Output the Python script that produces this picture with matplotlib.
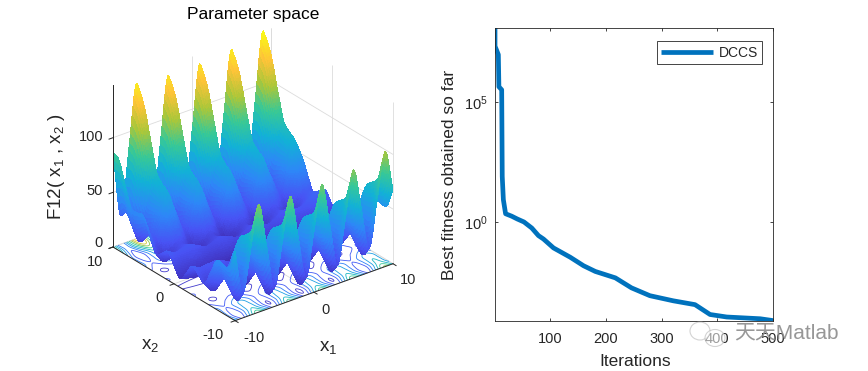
import numpy as np
import matplotlib
matplotlib.use("Agg")
import matplotlib.pyplot as plt
from matplotlib.colors import LinearSegmentedColormap
from matplotlib.patches import Ellipse
from mpl_toolkits.mplot3d import proj3d

# ---------- data ----------
x1_grid = list(range(-10, 11))
x2_grid = list(range(-10, 11))
# surface heights F12, one row per x2 value (x2 = -10 ... 10), columns x1 = -10 ... 10
z_rows = [
    [63.6,22.1,60.4,98.8,58.1,17.4,56.5,95.7,55.7,15.8,55.7,95.7,56.5,17.4,58.1,98.8,60.4,22.1,63.6,105.1,67.5],
    [45.7,12.6,42.5,72.6,40.2,7.9,38.6,69.5,37.8,6.3,37.8,69.5,38.6,7.9,40.2,72.6,42.5,12.6,45.7,78.9,49.6],
    [44.7,19.0,41.5,64.3,39.2,14.3,37.6,61.2,36.8,12.7,36.8,61.2,37.6,14.3,39.2,64.3,41.5,19.0,44.7,70.6,48.6],
    [44.9,25.5,41.7,58.1,39.4,20.8,37.8,55.0,37.0,19.2,37.0,55.0,37.8,20.8,39.4,58.1,41.7,25.5,44.9,64.4,48.8],
    [30.6,16.6,27.4,38.4,25.1,11.9,23.5,35.3,22.7,10.3,22.7,35.3,23.5,11.9,25.1,38.4,27.4,16.6,30.6,44.7,34.5],
    [17.4,7.9,14.2,20.8,11.9,3.2,10.3,17.7,9.5,1.6,9.5,17.7,10.3,3.2,11.9,20.8,14.2,7.9,17.4,27.1,21.3],
    [21.2,15.0,18.0,21.1,15.7,10.3,14.1,18.0,13.3,8.7,13.3,18.0,14.1,10.3,15.7,21.1,18.0,15.0,21.2,27.4,25.1],
    [26.1,22.4,22.9,23.5,20.6,17.7,19.0,20.4,18.2,16.1,18.2,20.4,19.0,17.7,20.6,23.5,22.9,22.4,26.1,29.8,30.0],
    [16.4,14.3,13.2,12.4,10.9,9.6,9.3,9.3,8.5,8.0,8.5,9.3,9.3,9.6,10.9,12.4,13.2,14.3,16.4,18.7,20.3],
    [8.0,6.3,4.8,3.5,2.5,1.6,0.9,0.4,0.1,0.0,0.1,0.4,0.9,1.6,2.5,3.5,4.8,6.3,8.0,9.8,11.9],
    [16.4,14.3,13.2,12.4,10.9,9.6,9.3,9.3,8.5,8.0,8.5,9.3,9.3,9.6,10.9,12.4,13.2,14.3,16.4,18.7,20.3],
    [26.1,22.4,22.9,23.5,20.6,17.7,19.0,20.4,18.2,16.1,18.2,20.4,19.0,17.7,20.6,23.5,22.9,22.4,26.1,29.8,30.0],
    [21.2,15.0,18.0,21.1,15.7,10.3,14.1,18.0,13.3,8.7,13.3,18.0,14.1,10.3,15.7,21.1,18.0,15.0,21.2,27.4,25.1],
    [17.4,7.9,14.2,20.8,11.9,3.2,10.3,17.7,9.5,1.6,9.5,17.7,10.3,3.2,11.9,20.8,14.2,7.9,17.4,27.1,21.3],
    [30.6,16.6,27.4,38.4,25.1,11.9,23.5,35.3,22.7,10.3,22.7,35.3,23.5,11.9,25.1,38.4,27.4,16.6,30.6,44.7,34.5],
    [44.9,25.5,41.7,58.1,39.4,20.8,37.8,55.0,37.0,19.2,37.0,55.0,37.8,20.8,39.4,58.1,41.7,25.5,44.9,64.4,48.8],
    [44.7,19.0,41.5,64.3,39.2,14.3,37.6,61.2,36.8,12.7,36.8,61.2,37.6,14.3,39.2,64.3,41.5,19.0,44.7,70.6,48.6],
    [45.7,12.6,42.5,72.6,40.2,7.9,38.6,69.5,37.8,6.3,37.8,69.5,38.6,7.9,40.2,72.6,42.5,12.6,45.7,78.9,49.6],
    [63.6,22.1,60.4,98.8,58.1,17.4,56.5,95.7,55.7,15.8,55.7,95.7,56.5,17.4,58.1,98.8,60.4,22.1,63.6,105.1,67.5],
    [82.6,31.8,79.4,127.2,77.1,27.1,75.5,124.1,74.7,25.5,74.7,124.1,75.5,27.1,77.1,127.2,79.4,31.8,82.6,133.5,86.5],
    [87.1,26.0,83.9,142.0,81.6,21.3,80.0,138.9,79.2,19.7,79.2,138.9,80.0,21.3,81.6,142.0,83.9,26.0,87.1,148.3,91.0],
]
contour_levels = [10, 25, 40, 55, 70, 85, 100, 115, 130, 145]
z_ticks = [0, 50, 100]
x_ticks_3d = [-10, 0, 10]

iterations = [1, 1, 7, 8, 13, 14, 16, 20, 31, 41, 53, 67, 79, 88, 106, 136, 160, 181, 217, 246, 279, 321, 360, 387, 417, 477, 500]
best_fitness = [1.2e8, 2.1e7, 9.3e6, 4.3e5, 3.2e5, 79, 8.5, 2.2, 1.74, 1.33, 1.0, 0.56, 0.27, 0.195, 0.083, 0.034, 0.015,
                0.0087, 0.0047, 0.0018, 8.5e-4, 5.2e-4, 3.6e-4, 1.4e-4, 1.1e-4, 9.3e-5, 7.8e-5]
iter_ticks = [100, 200, 300, 400, 500]
fitness_ticks = [1e0, 1e5]
series_name = "DCCS"
watermark = "天天Matlab"

# ---------- style ----------
W, H = 868, 371
DARK = "#262626"
plt.rcParams["font.family"] = ["Liberation Sans", "Noto Sans CJK SC", "DejaVu Sans"]
plt.rcParams["mathtext.fontset"] = "custom"
plt.rcParams["mathtext.rm"] = "Liberation Sans"
plt.rcParams["mathtext.default"] = "rm"
parula = LinearSegmentedColormap.from_list("parula", [
    (0.2422, 0.1504, 0.6603), (0.2810, 0.3228, 0.9579), (0.1786, 0.5289, 0.9682), (0.0689, 0.6948, 0.8394),
    (0.2161, 0.7843, 0.5923), (0.6720, 0.7793, 0.2227), (0.9970, 0.7659, 0.2199), (0.9769, 0.9839, 0.0805)])

fig = plt.figure(figsize=(W / 100, H / 100), dpi=100)


def ftext(px, py, s, **kw):
    kw.setdefault("color", DARK)
    kw.setdefault("ha", "center")
    kw.setdefault("va", "center")
    return fig.text(px / W, 1 - py / H, s, **kw)


# ---------- left: surface ----------
ax = fig.add_axes([0.1, 0.1, 0.6, 0.6 * W / H], projection="3d", computed_zorder=False)
ax.set_proj_type("ortho")
ax.view_init(elev=27.8, azim=-127.7)
ax.set_box_aspect((1, 1, 0.918))
ax.set_xlim(-10, 10)
ax.set_ylim(-10, 10)
zmax = 148.3
ax.set_zlim(0, zmax)
ax.set_axis_off()
ax.patch.set_alpha(0)

# place the box so that its floor corners sit where they do in the reference
fig.canvas.draw()


def to_px(a, x, y, z):
    xp, yp, _ = proj3d.proj_transform(x, y, z, a.get_proj())
    return a.transData.transform((xp, yp))


p0 = to_px(ax, -10, 10, 0)
p1 = to_px(ax, 10, -10, 0)
scale = (393 - 113) / (p1[0] - p0[0])
pos = ax.get_position()
w_px = pos.width * W * scale
ax.set_position([0, 0, w_px / W, w_px / H])
fig.canvas.draw()
p0 = to_px(ax, -10, 10, 0)
ax.set_position([(113 - p0[0]) / W, ((H - 247) - p0[1]) / H, w_px / W, w_px / H])
fig.canvas.draw()

GRID = "#dcdcdc"
LINE = {"lw": 0.6, "solid_capstyle": "butt"}
# back-wall and floor grid
for v in x_ticks_3d:
    ax.plot([v, v], [10, 10], [0, zmax], color=GRID, zorder=1, **LINE)
    ax.plot([10, 10], [v, v], [0, zmax], color=GRID, zorder=1, **LINE)
    ax.plot([v, v], [-10, 10], [0, 0], color=GRID, zorder=1, **LINE)
    ax.plot([-10, 10], [v, v], [0, 0], color=GRID, zorder=1, **LINE)
for zv in z_ticks:
    ax.plot([-10, 10], [10, 10], [zv, zv], color=GRID, zorder=1, **LINE)
    ax.plot([10, 10], [-10, 10], [zv, zv], color=GRID, zorder=1, **LINE)


def refine(a, n, axis):
    """Render-only mesh refinement (like MATLAB's shading interp): passes through every
    grid value and rounds the facets between them with a Catmull-Rom spline."""
    a = np.moveaxis(a, axis, 0)
    p = np.concatenate([2 * a[:1] - a[1:2], a, 2 * a[-1:] - a[-2:-1]])
    out = []
    for i in range(a.shape[0] - 1):
        for j in range(n):
            t = j / n
            out.append(0.5 * (2 * p[i + 1] + (p[i + 2] - p[i]) * t
                              + (2 * p[i] - 5 * p[i + 1] + 4 * p[i + 2] - p[i + 3]) * t ** 2
                              + (3 * p[i + 1] - p[i] - 3 * p[i + 2] + p[i + 3]) * t ** 3))
    out.append(a[-1])
    return np.moveaxis(np.array(out), 0, axis)


X, Y = np.meshgrid(np.array(x1_grid, float), np.array(x2_grid, float))
Z = np.array(z_rows)
N = 9
Xf = refine(refine(X, N, 0), N, 1)
Yf = refine(refine(Y, N, 0), N, 1)
Zf = np.clip(refine(refine(Z, N, 0), N, 1), 0, None)
Zc = (Zf[:-1, :-1] + Zf[1:, :-1] + Zf[:-1, 1:] + Zf[1:, 1:]) / 4

ax.contour(Xf, Yf, Zf, levels=contour_levels, zdir="z", offset=0, cmap=parula, vmin=0, vmax=zmax,
           linewidths=0.6, zorder=2)
ax.plot_surface(Xf, Yf, Zf, rstride=1, cstride=1, facecolors=parula(Zc / zmax), linewidth=0,
                antialiased=False, shade=False, zorder=3)

# axis lines and ticks
ax.plot([-10, -10], [10, 10], [0, zmax], color=DARK, lw=0.7, zorder=4)
ax.plot([-10, -10], [-10, 10], [0, 0], color=DARK, lw=0.7, zorder=4)
ax.plot([-10, 10], [-10, -10], [0, 0], color=DARK, lw=0.7, zorder=4)
for zv in z_ticks:
    ax.plot([-10, -10.5], [10, 10], [zv, zv], color=DARK, lw=0.7, zorder=4)
for v in x_ticks_3d:
    ax.plot([v, v], [-10, -10.5], [0, 0], color=DARK, lw=0.7, zorder=4)
    ax.plot([-10, -10.5], [v, v], [0, 0], color=DARK, lw=0.7, zorder=4)

FS_T, FS_L = 10.5, 12.5
for zv, py in zip(z_ticks, [243, 191, 137]):
    ftext(103, py, str(zv), ha="right", fontsize=FS_T)
for v, (px, py) in zip(x_ticks_3d, [(213, 335), (159, 298), (95, 262)]):
    ftext(px, py, str(v), fontsize=FS_T)
for v, (px, py) in zip(x_ticks_3d, [(254, 338), (325, 310), (408, 280)]):
    ftext(px, py, str(v), fontsize=FS_T)
ftext(150, 345, r"x$_2$", fontsize=13.5)
ftext(328, 348, r"x$_1$", fontsize=13.5)
ftext(57, 167, r"F12( x$_1$ , x$_2$ )", fontsize=13.5, rotation=90)
ftext(253, 15, "Parameter space", fontsize=FS_L, color="black")

# ---------- right: convergence curve ----------
ax2 = fig.add_axes([495 / W, 1 - 321 / H, 278 / W, 293 / H])
ax2.semilogy(iterations, best_fitness, color="#0072BD", lw=3.4, label=series_name, solid_joinstyle="round",
             solid_capstyle="butt", clip_on=True)
ax2.set_xlim(1, 500)
ax2.set_ylim(7.5e-5, 1.2e8)
ax2.set_xticks(iter_ticks)
ax2.set_yticks(fitness_ticks)
ax2.minorticks_off()
ax2.tick_params(axis="both", which="major", direction="in", top=True, right=True, length=2.5, width=0.6,
                labelsize=FS_T, colors=DARK)
ax2.tick_params(axis="x", pad=8)
ax2.tick_params(axis="y", pad=5)
for s in ax2.spines.values():
    s.set_linewidth(0.6)
    s.set_color(DARK)
ax2.set_xlabel("Iterations", fontsize=FS_L, color=DARK)
ax2.set_ylabel("Best fitness obtained so far", fontsize=FS_L, color=DARK)
ax2.xaxis.set_label_coords((635 - 495) / 278, -(361 - 321) / 293)
ax2.yaxis.set_label_coords(-(495 - 449) / 278, (321 - 175) / 293)
ax2.xaxis.label.set_va("center")
ax2.yaxis.label.set_va("center")
leg = ax2.legend(loc="upper right", bbox_to_anchor=(762 / W, 1 - 41.5 / H), bbox_transform=fig.transFigure,
                 fontsize=10, fancybox=False, framealpha=1, edgecolor=DARK, handlelength=3.75,
                 borderaxespad=0, borderpad=0.3, handletextpad=0.4)
leg.get_frame().set_linewidth(0.6)
for t in leg.get_texts():
    t.set_color(DARK)

# ---------- watermark ----------
for cx, cy, rx, ry in [(700, 331, 10, 9), (715, 338, 10, 8.5)]:
    fig.add_artist(Ellipse((cx / W, 1 - cy / H), 2 * rx / W, 2 * ry / H, transform=fig.transFigure,
                           facecolor="white", edgecolor="#b0b0b0", lw=0.8, alpha=0.55))
ftext(786, 333, watermark, fontsize=15, color="#8c8c8c", alpha=0.9)

fig.savefig("out.png", dpi=100)
